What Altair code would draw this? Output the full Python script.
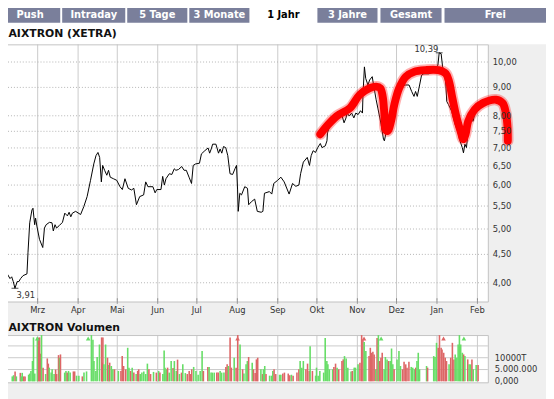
import altair as alt
import pandas as pd

# ---------------- data ----------------
START = "2009-02-04"          # day 0 of the time axis
END_DAY = 370                 # last day shown (2010-02-09)

month_starts = ["2009-03-01", "2009-04-01", "2009-05-01", "2009-06-01", "2009-07-01", "2009-08-01",
                "2009-09-01", "2009-10-01", "2009-11-01", "2009-12-01", "2010-01-01", "2010-02-01"]
month_labels = ["Mrz", "Apr", "Mai", "Jun", "Jul", "Aug", "Sep", "Okt", "Nov", "Dez", "Jan", "Feb"]

price_ticks = [4.0, 4.5, 5.0, 5.5, 6.0, 6.5, 7.0, 7.5, 8.0, 9.0, 10.0]
price_tick_labels = ["4,00", "4,50", "5,00", "5,50", "6,00", "6,50", "7,00", "7,50", "8,00", "9,00", "10,00"]
price_min, price_max = 3.70, 10.76

vol_grid = [5, 10, 15]
vol_tick_vals = [10, 5, 0]
vol_tick_labels = ["10000T", "5.000.000", "0,000"]
vol_max = 19.6                # millions

tabs = ["Push", "Intraday", "5 Tage", "3 Monate", "1 Jahr", "3 Jahre", "Gesamt", "Frei"]
active_tab = "1 Jahr"
title_main = "AIXTRON (XETRA)"
title_vol = "AIXTRON Volumen"

low_day, low_val, low_label = 7.6, 3.91, "3,91"
high_day, high_val, high_label = 332.7, 10.39, "10,39"

price_day = [1.7, 3.8, 5.1, 6.3, 7.6, 9.3, 10.6, 11.9, 13.8, 16.8, 17.6, 18.9, 20.6, 21.4, 22.7, 23.4,
             24.4, 26.4, 28.9, 30.2, 31.5, 34.0, 36.0, 37.0, 38.3, 39.5, 41.5, 44.0, 45.8, 47.8, 49.1,
             50.4, 51.6, 54.1, 57.9, 60.4, 62.9, 65.5, 68.0, 69.7, 71.2, 72.5, 73.8, 74.8, 76.3, 78.0,
             79.3, 80.6, 83.1, 85.6, 88.1, 89.9, 91.9,
             94.4, 96.9, 98.7, 100.7, 103.2, 106.2, 107.8, 109.5, 113.3, 115.0, 116.3, 119.5, 120.8,
             122.1, 123.3, 125.9, 127.8, 129.7, 130.9, 132.9, 135.4, 137.2, 138.9, 141.0, 142.9, 144.2,
             146.0, 149.0, 150.5, 153.1, 155.6, 156.8, 158.0, 159.1, 161.6, 163.6, 164.8, 166.1, 167.4,
             169.1, 170.7, 172.4, 174.4, 176.2, 177.4, 178.2, 178.7, 179.9,
             181.2, 183.7, 185.8, 186.7, 188.8, 191.3, 193.3, 196.3, 197.6, 198.8, 202.6, 204.4, 205.9,
             208.9, 211.4, 213.9, 217.7, 220.3, 222.8, 225.2, 226.5, 228.6, 231.6, 233.3, 234.6, 236.1,
             237.9, 239.6, 241.6, 242.9, 245.4, 246.7, 247.1, 249.2, 251.5, 253.7, 258.0, 259.8, 261.3,
             262.2, 263.8, 265.6, 267.3, 268.8, 270.6, 272.4, 273.9, 274.3, 275.4,
             276.4, 278.1, 279.4, 281.4, 282.4, 284.4, 285.7, 288.2, 290.0, 290.7, 292.0, 294.5, 298.3,
             302.0, 304.3, 307.1, 309.6, 311.6, 313.4, 314.6, 315.9, 317.7, 319.2, 320.9, 324.7, 328.5,
             329.7, 331.7, 332.7, 334.2, 335.3, 336.8, 337.8, 338.5, 339.8, 342.3, 344.9, 346.8, 348.6,
             350.4, 351.3, 352.4, 353.6, 354.9, 356.9, 358.7, 360.4, 362.4, 364.4, 366.2]
price_val = [4.15, 4.07, 4.10, 4.02, 3.91, 4.02, 4.02, 4.07, 4.12, 4.15, 4.54, 5.13, 5.41, 5.45, 5.09, 5.23,
             5.06, 4.79, 4.63, 5.02, 5.09, 5.14, 5.13, 4.96, 5.09, 5.02, 5.07, 5.14, 5.34, 5.28, 5.36,
             5.26, 5.34, 5.38, 5.31, 5.49, 5.72, 6.12, 6.55, 6.78, 6.87, 6.73, 6.08, 6.51, 6.38, 6.25,
             6.38, 6.20, 6.16, 6.12, 5.96, 5.89, 6.16,
             5.92, 5.88, 5.92, 5.53, 5.72, 5.76, 6.08, 5.96, 5.96, 5.81, 5.89, 5.89, 6.22,
             6.00, 6.16, 6.29, 6.27, 6.42, 6.38, 6.40, 6.48, 6.38, 6.38, 6.20, 6.04, 6.51,
             6.55, 6.57, 6.83, 6.92, 7.00, 6.85, 6.97, 7.11, 7.11, 6.85, 6.97, 6.85, 7.04,
             7.01, 6.78, 6.29, 6.27, 6.42, 6.51, 5.88, 5.38, 5.80,
             5.76, 5.96, 5.92, 5.53, 5.60, 5.66, 5.38, 5.36, 5.38, 5.80, 5.84, 5.78, 6.04,
             6.12, 6.20, 6.08, 5.78, 6.04, 5.97, 6.00, 6.29, 6.60, 6.73, 6.51, 6.78, 6.92,
             6.87, 7.01, 7.13, 7.01, 7.06, 7.21, 7.46, 7.70, 7.89, 8.05, 8.04, 7.77, 7.93,
             8.09, 7.99, 8.09, 7.93, 8.09, 8.04, 8.17, 8.09, 8.73, 9.80,
             9.34, 9.09, 9.28, 9.41, 9.09, 8.55, 8.26, 7.72, 7.26, 7.21, 7.46, 7.82, 8.49,
             8.92, 9.06, 9.09, 9.09, 8.85, 8.67, 8.85, 8.67, 9.09, 9.47, 9.52, 9.52, 9.60,
             9.73, 9.87, 10.39, 10.35, 9.80, 9.60, 9.09, 8.49, 8.38, 8.15, 7.72, 7.51, 7.21,
             7.01, 6.86, 7.11, 7.01, 7.51, 7.88, 7.82, 8.15, 8.32, 8.47, 8.58]

# hand-drawn red annotation stroke
red_day = [241.6, 246.7, 254.2, 264.3, 271.8, 279.4, 284.4, 287.5, 289.4, 290.7, 291.5, 293.2, 295.8,
           298.3, 302.0, 307.1, 313.4, 322.2, 332.2, 337.8, 340.3, 342.8, 346.1, 349.4, 351.1, 352.9,
           354.9, 359.9, 366.2, 376.3, 381.3, 383.8, 385.1, 385.3]
red_val = [7.41, 7.67, 7.99, 8.26, 8.73, 8.97, 9.03, 8.97, 8.67, 8.04, 7.56, 7.51, 7.82,
           8.38, 8.97, 9.41, 9.60, 9.67, 9.67, 9.53, 9.21, 8.61, 7.93, 7.46, 7.26, 7.41,
           7.82, 8.21, 8.43, 8.55, 8.43, 8.09, 7.61, 7.21]

# volume (millions) per day; G = up day, R = down day (rows of ten)
vol_day = [1.8, 2.8, 4.0, 5.0, 8.1, 8.8, 9.6, 10.8, 11.8, 14.6,
           15.4, 16.4, 17.6, 18.4, 19.4, 21.4, 22.4, 23.2, 23.9, 24.7,
           25.9, 27.9, 29.2, 30.0, 30.7, 32.2, 33.0, 34.5, 35.7, 36.5,
           38.0, 38.8, 39.5, 42.8, 43.8, 44.8, 45.8, 47.1, 49.6, 50.6,
           52.1, 53.9, 56.6, 57.9, 59.9, 63.7, 64.9, 65.7, 67.2, 68.2,
           70.0, 71.7, 72.2, 72.7, 73.5, 74.8, 76.3, 77.3, 78.0, 79.3,
           80.5, 81.8, 84.8, 86.8, 87.8, 88.9, 90.6, 92.1, 93.1, 94.4,
           95.6, 96.9, 98.7, 99.9, 100.7, 101.9, 103.2, 104.7, 106.2, 107.5,
           108.7, 110.0, 112.3, 114.5, 116.3, 117.3, 119.6, 120.6, 121.3, 122.3,
           123.3, 124.6, 126.1, 127.6, 128.6, 130.1, 131.1, 132.6, 134.2, 135.2,
           137.2, 138.7, 140.2, 141.2, 142.2, 143.7, 145.5, 147.2, 148.8, 150.3,
           151.3, 154.8, 155.8, 157.3, 158.3, 159.8, 161.8, 162.9, 164.4, 165.6,
           167.4, 168.9, 169.9, 170.9, 172.2, 173.2, 175.4, 176.9, 178.2, 180.0,
           182.0, 183.0, 184.7, 185.7, 186.7, 189.5, 190.5, 191.8, 192.8, 193.8,
           196.3, 197.6, 198.3, 199.3, 200.3, 203.1, 204.6, 205.6, 206.6, 207.9,
           210.9, 211.9, 213.4, 214.7, 217.7, 218.9, 220.2, 221.5, 224.5, 226.0,
           227.0, 228.3, 229.5, 231.5, 232.8, 234.1, 234.8, 236.6, 239.1, 239.8,
           241.1, 242.4, 245.4, 246.6, 247.9, 248.7, 249.9, 252.4, 253.4, 254.7,
           255.9, 257.2, 259.7, 260.7, 261.7, 263.0, 264.3, 266.8, 267.8, 269.3,
           270.3, 272.3, 273.8, 275.1, 276.1, 277.1, 278.4, 280.9, 281.9, 282.9,
           283.9, 284.9, 286.2, 287.2, 288.2, 289.2, 290.2, 291.2, 292.7, 293.7,
           295.0, 296.2, 297.5, 298.5, 299.5, 300.5, 302.8, 304.3, 305.5, 307.1,
           308.3, 309.6, 310.6, 312.1, 313.9, 315.1, 316.4, 317.4, 318.4, 319.4,
           320.4, 325.9, 326.7, 331.5, 332.5, 333.7, 335.0, 336.0, 337.3, 338.0,
           339.3, 340.5, 341.5, 343.5, 344.8, 346.1, 347.3, 348.3, 349.6, 350.6,
           351.6, 352.6, 353.9, 354.9, 355.9, 358.1, 359.2, 360.4, 361.4, 362.4,
           364.7, 366.2]
vol_val = [2.1, 2.6, 4.2, 2.1, 3.6, 2.1, 3.6, 2.1, 2.1, 2.8,
           3.3, 4.4, 8.6, 18.6, 3.3, 18.6, 18.5, 18.6, 11.7, 24,
           5.8, 3.1, 9.7, 7.5, 5.8, 3.7, 5.1, 3.1, 5.0, 3.1,
           11.1, 10.0, 11.4, 3.7, 4.4, 3.7, 4.4, 3.7, 4.2, 4.2,
           2.4, 2.4, 2.1, 3.7, 4.2, 24, 17.6, 8.6, 4.4, 10.3,
           15.6, 18.6, 7.9, 18.6, 7.2, 15.6, 10.0, 6.9, 7.9, 6.5,
           5.1, 5.1, 4.4, 4.4, 10.7, 6.5, 5.1, 14.2, 5.8, 4.4,
           5.8, 3.7, 3.1, 4.4, 5.1, 3.1, 3.7, 4.2, 3.1, 7.5,
           5.1, 3.1, 4.0, 3.7, 4.4, 3.7, 3.1, 13.1, 5.8, 5.1,
           5.8, 3.7, 8.6, 5.6, 8.6, 4.4, 9.2, 3.1, 3.7, 7.2,
           3.5, 3.1, 4.4, 3.1, 5.1, 6.1, 4.4, 2.8, 4.4, 12.8,
           4.4, 6.1, 6.1, 3.7, 3.7, 3.7, 3.7, 3.7, 4.4, 3.7,
           3.7, 6.1, 7.2, 6.5, 18.6, 5.8, 10.0, 5.8, 24, 15.6,
           5.1, 3.3, 7.2, 8.6, 10.3, 7.9, 5.1, 3.5, 9.3, 10.0,
           5.1, 3.1, 5.1, 6.5, 3.1, 2.4, 2.4, 4.4, 5.1, 3.1,
           2.8, 2.8, 3.3, 3.7, 3.3, 2.6, 2.8, 2.4, 3.7, 5.1,
           8.6, 5.8, 8.6, 5.1, 7.5, 4.4, 14.9, 4.4, 2.4, 5.8,
           2.4, 4.4, 3.7, 18.3, 8.6, 7.2, 5.1, 5.1, 6.1, 7.5,
           5.8, 5.1, 8.6, 9.3, 10.7, 9.7, 5.8, 4.2, 4.4, 5.8,
           5.8, 7.2, 7.9, 24, 17.6, 16.7, 12.8, 10.7, 14.2, 12.1,
           12.5, 11.4, 5.1, 18.3, 24, 8.6, 10.0, 12.1, 5.1, 10.3,
           9.3, 8.6, 8.6, 13.9, 7.2, 5.1, 9.3, 12.8, 6.5, 5.1,
           8.3, 7.2, 5.8, 8.3, 6.1, 5.8, 5.1, 5.8, 8.6, 12.1,
           5.1, 6.5, 5.8, 10.7, 10.3, 16.3, 14.2, 24, 14.2, 13.5,
           12.1, 10.0, 8.6, 7.2, 10.0, 16.3, 9.3, 11.4, 10.0, 15.6,
           24, 15.6, 12.1, 11.4, 10.7, 9.3, 7.2, 7.2, 9.3, 5.1,
           6.9, 6.9]
vol_dir = list("GGRGRGGRRG" "GGGGGGRRRG" "RGRRGGGGRR" "RGRGGRGGRR" "GGRGGGGGGG"
               "GRRRGGRGRG" "GRGRRRRGGR" "GRGRRGGGGG" "RRGRGRGGGG" "RGGRGGRGRG"
               "GRRRRGGGGG" "RRGGGGRRGG" "GRRGRRGRRG" "RGGGRGRRRR" "GRGGRGGGRR"
               "GGRRRRGRRR" "GGGRRRGRGG" "GGGGGGGGRR" "GRRRGGGGRG" "GGRRRGGRRR"
               "RRGRGRRRGG" "GRGGGRGGGR" "RRRRGGGRGG" "GGRGGGRRRR" "RRRGRRRGGG"
               "GGGRGRGGRG" "GR")

# ---------------- layout (reference pixel coordinates) ----------------
O = 8                      # page margin; svg origin sits at (8, 8)
def px(v):
    return v - O

PLOT_L, PLOT_R = 5, 495
P_TOP, P_BOT = 42, 303
V_TOP, V_BOT, V_ZERO = 337, 385, 384
tab_edges = [(0, 61), (63, 127), (129, 190), (192, 253), (255, 320), (322, 383), (386, 448), (451, 554)]

TAB_BLUE = "#7a7f9b"
GRID = "#cacaca"
FONT = "DejaVu Sans"

def xsc():
    return alt.Scale(domain=[0, END_DAY], range=[px(PLOT_L), px(PLOT_R)], nice=False, zero=False)

def psc():
    return alt.Scale(type="log", domain=[price_min, price_max], range=[px(P_BOT), px(P_TOP)], nice=False)

def vsc():
    return alt.Scale(domain=[0, vol_max], range=[px(V_ZERO), px(V_TOP)], nice=False, zero=False, clamp=True)

X = lambda f: alt.X(f, scale=xsc(), axis=None)
NX = lambda f: alt.X(f, scale=None, axis=None)
NY = lambda f: alt.Y(f, scale=None, axis=None)

start = pd.Timestamp(START)
month_day = [(pd.Timestamp(m) - start).days for m in month_starts]

# ---------------- tables ----------------
price_df = pd.DataFrame({"d": price_day, "p": price_val})
red_df = pd.DataFrame({"d": red_day, "p": red_val, "i": range(len(red_day))})
vol_df = pd.DataFrame({"d": vol_day, "v": vol_val, "c": vol_dir})
over_df = vol_df[vol_df["v"] > vol_max].copy()
over_df["a"] = 18.1
month_df = pd.DataFrame({"d": month_day, "t": month_labels})
pt_df = pd.DataFrame({"p": price_ticks, "t": price_tick_labels})
vg_df = pd.DataFrame({"v": vol_grid})
vt_df = pd.DataFrame({"v": vol_tick_vals, "t": vol_tick_labels})
tab_df = pd.DataFrame({"name": tabs,
                       "x0": [px(a) for a, b in tab_edges], "x1": [px(b) for a, b in tab_edges],
                       "xc": [px((a + b) / 2) for a, b in tab_edges]})
mark_df = pd.DataFrame({"d": [low_day, high_day], "p": [low_val, high_val], "t": [low_label, high_label]})

bg_df = pd.DataFrame([
    dict(x0=px(0), x1=px(554), y0=px(0), y1=px(42), f="#ffffff"),
    dict(x0=px(PLOT_L), x1=px(PLOT_R), y0=px(P_TOP), y1=px(P_BOT), f="#ffffff"),
    dict(x0=px(PLOT_L), x1=px(PLOT_R), y0=px(V_TOP), y1=px(V_BOT), f="#ffffff"),
])
border_df = bg_df.iloc[1:].copy()
border_df[["x0", "x1", "y0", "y1"]] = border_df[["x0", "x1", "y0", "y1"]] + 0.5

# ---------------- layers ----------------
bg = alt.Chart(bg_df).mark_rect(strokeWidth=0).encode(
    x=NX("x0:Q"), x2="x1:Q", y=NY("y0:Q"), y2="y1:Q", fill=alt.Fill("f:N", scale=None))

tab_rects = alt.Chart(tab_df).mark_rect(strokeWidth=0).encode(
    x=NX("x0:Q"), x2="x1:Q", y=alt.value(px(0)), y2=alt.value(px(20)),
    fill=alt.condition(alt.datum.name == active_tab, alt.value("#ffffff"), alt.value(TAB_BLUE)))
tab_text = alt.Chart(tab_df).mark_text(font=FONT, fontSize=10, fontWeight="bold", baseline="middle").encode(
    x=NX("xc:Q"), y=alt.value(4), text="name:N",
    color=alt.condition(alt.datum.name == active_tab, alt.value("#000000"), alt.value("#ffffff")))

vgrid_p = alt.Chart(month_df).mark_rule(color=GRID, strokeWidth=1).encode(
    x=X("d:Q"), y=alt.value(px(P_TOP)), y2=alt.value(px(P_BOT)))
vgrid_v = alt.Chart(month_df).mark_rule(color=GRID, strokeWidth=1).encode(
    x=X("d:Q"), y=alt.value(px(V_TOP)), y2=alt.value(px(V_BOT)))
mticks = alt.Chart(month_df).mark_rule(color="#555555", strokeWidth=1, strokeDash=[1, 1]).encode(
    x=X("d:Q"), y=alt.value(px(P_BOT - 3)), y2=alt.value(px(P_BOT + 3)))
hgrid_p = alt.Chart(pt_df).mark_rule(color="#b4b4b4", strokeWidth=1, strokeDash=[1, 2]).encode(
    y=alt.Y("p:Q", scale=psc(), axis=None), x=alt.value(px(PLOT_L)), x2=alt.value(px(PLOT_R)))
hgrid_v = alt.Chart(vg_df).mark_rule(color=GRID, strokeWidth=1).encode(
    y=alt.Y("v:Q", scale=vsc(), axis=None), x=alt.value(px(PLOT_L)), x2=alt.value(px(PLOT_R)))
borders = alt.Chart(border_df).mark_rect(fillOpacity=0, stroke="#c4c4c4", strokeWidth=1).encode(
    x=NX("x0:Q"), x2="x1:Q", y=NY("y0:Q"), y2="y1:Q")

line = alt.Chart(price_df).mark_line(color="#000000", strokeWidth=1).encode(
    x=X("d:Q"), y=alt.Y("p:Q", scale=psc(), axis=None))
marks = alt.Chart(mark_df).mark_tick(orient="horizontal", size=7, thickness=1, color="#000000").encode(
    x=X("d:Q"), y=alt.Y("p:Q", scale=psc(), axis=None))
low_txt = alt.Chart(mark_df.iloc[[0]]).mark_text(font=FONT, fontSize=8.5, color="#333333", dx=11, dy=7).encode(
    x=X("d:Q"), y=alt.Y("p:Q", scale=psc(), axis=None), text="t:N")
high_txt = alt.Chart(mark_df.iloc[[1]]).mark_text(font=FONT, fontSize=8.5, color="#333333", dx=-13, dy=-4).encode(
    x=X("d:Q"), y=alt.Y("p:Q", scale=psc(), axis=None), text="t:N")

red_glow = alt.Chart(red_df).mark_line(color="#ff2020", strokeWidth=11.5, opacity=0.35, interpolate="catmull-rom",
                                       strokeCap="round", strokeJoin="round").encode(
    x=X("d:Q"), y=alt.Y("p:Q", scale=psc(), axis=None), order="i:Q")
red_core = alt.Chart(red_df).mark_line(color="#ff0000", strokeWidth=8, interpolate="catmull-rom",
                                       strokeCap="round", strokeJoin="round").encode(
    x=X("d:Q"), y=alt.Y("p:Q", scale=psc(), axis=None), order="i:Q")

cscale = alt.Scale(domain=["G", "R"], range=["#66dd66", "#dd6666"])
bars = alt.Chart(vol_df).mark_bar(width=1.6).encode(
    x=X("d:Q"), y=alt.Y("v:Q", scale=vsc(), axis=None), y2=alt.datum(0),
    color=alt.Color("c:N", scale=cscale, legend=None))
arrows = alt.Chart(over_df).mark_point(shape="triangle-up", filled=True, size=22, opacity=1).encode(
    x=X("d:Q"), y=alt.Y("a:Q", scale=vsc(), axis=None),
    color=alt.Color("c:N", scale=cscale, legend=None))

month_txt = alt.Chart(month_df).mark_text(font=FONT, fontSize=8.5, color="#333333", baseline="middle").encode(
    x=X("d:Q"), y=alt.value(px(312)), text="t:N")
ptick_txt = alt.Chart(pt_df).mark_text(font=FONT, fontSize=8.5, color="#333333", align="left", baseline="middle").encode(
    y=alt.Y("p:Q", scale=psc(), axis=None), x=alt.value(px(500)), text="t:N")
vtick_txt = alt.Chart(vt_df).mark_text(font=FONT, fontSize=8.5, color="#333333", align="left", baseline="middle").encode(
    y=alt.Y("v:Q", scale=vsc(), axis=None), x=alt.value(px(502)), text="t:N")

titles_df = pd.DataFrame({"t": [title_main, title_vol], "y": [px(32), px(330)]})
titles = alt.Chart(titles_df).mark_text(font=FONT, fontSize=11, fontWeight="bold", color="#111111",
                                        align="left", baseline="middle").encode(
    x=alt.value(0.5), y=NY("y:Q"), text="t:N")

chart = alt.layer(
    bg, tab_rects, tab_text, vgrid_p, vgrid_v, hgrid_p, hgrid_v, borders, mticks,
    bars, arrows, line, marks, low_txt, high_txt, red_glow, red_core,
    month_txt, ptick_txt, vtick_txt, titles
).resolve_scale(x="independent", y="independent", color="shared").properties(
    width=546, height=391, autosize=alt.AutoSizeParams(type="none"), padding=0, background="#efefef"
).configure_view(strokeWidth=0)

chart.save("out.html", embed_options={"renderer": "svg", "actions": False})
